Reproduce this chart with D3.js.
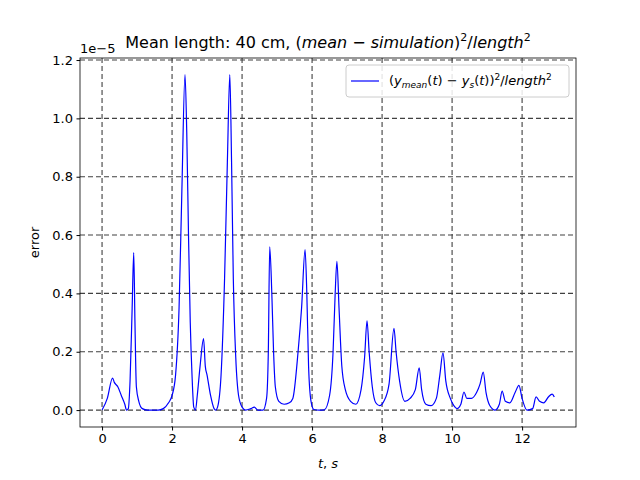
<!DOCTYPE html>
<html><head><meta charset="utf-8">
<script src="https://cdn.jsdelivr.net/npm/d3@7"></script>
<style>body{margin:0;background:#fff}text{font-family:"DejaVu Sans",sans-serif}</style>
</head><body><svg id="chart" width="640" height="480"></svg>
<script>
// curve, error in units of 1e-5
var times = [0,0.15,0.3,0.35,0.45,0.55,0.65,0.7,0.75,0.8,0.86,0.905,0.94,0.98,1.05,1.15,1.3,1.6,1.75,1.9,2.0,2.1,2.2,2.28,2.37,2.42,2.47,2.52,2.57,2.62,2.67,2.72,2.8,2.9,2.95,3.0,3.1,3.2,3.25,3.3,3.4,3.5,3.58,3.65,3.7,3.75,3.82,3.9,4.0,4.1,4.25,4.35,4.45,4.6,4.7,4.75,4.79,4.85,4.9,4.95,5.05,5.2,5.35,5.45,5.6,5.7,5.8,5.85,5.9,5.97,6.05,6.2,6.35,6.5,6.6,6.66,6.71,6.77,6.85,6.95,7.1,7.25,7.4,7.5,7.57,7.63,7.72,7.82,7.93,8.05,8.2,8.34,8.4,8.5,8.65,8.8,8.95,9.06,9.13,9.25,9.4,9.55,9.65,9.74,9.82,9.95,10.05,10.14,10.25,10.34,10.42,10.55,10.7,10.8,10.89,10.97,11.08,11.23,11.35,11.43,11.52,11.65,11.8,11.91,12.0,12.14,12.3,12.4,12.5,12.62,12.75,12.86,12.92];
var errors = [0,0.04,0.11,0.095,0.08,0.05,0.02,0,0.005,0.1,0.35,0.54,0.3,0.08,0.03,0.005,0,0,0.005,0.025,0.05,0.12,0.35,0.75,1.15,0.95,0.6,0.3,0.12,0.01,0,0.05,0.15,0.245,0.15,0.12,0.05,0.005,0,0.01,0.12,0.45,0.85,1.15,0.85,0.45,0.18,0.05,0.01,0,0.005,0.01,0,0,0.04,0.2,0.56,0.4,0.2,0.08,0.03,0.02,0.025,0.04,0.2,0.35,0.55,0.4,0.15,0.03,0.002,0,0.001,0.05,0.2,0.4,0.51,0.35,0.15,0.07,0.03,0.02,0.07,0.18,0.306,0.2,0.08,0.025,0.015,0.03,0.09,0.28,0.2,0.1,0.03,0.04,0.07,0.145,0.07,0.02,0.015,0.04,0.12,0.196,0.1,0.04,0.015,0.005,0.02,0.062,0.04,0.04,0.06,0.09,0.13,0.06,0.015,0,0.02,0.065,0.03,0.025,0.06,0.085,0.04,0,0.005,0.045,0.03,0.025,0.045,0.055,0.045];
var xTicks = [0,2,4,6,8,10,12];
var yTicks = [0,0.2,0.4,0.6,0.8,1.0,1.2];

var svg = d3.select("#chart");
var L = 80, R = 576, T = 58, B = 427;
var x = d3.scaleLinear().domain([-0.63, 13.54]).range([L, R]);
var y = d3.scaleLinear().domain([-0.058, 1.207]).range([B, T]);

// grid
svg.append("g").selectAll("line").data(xTicks).join("line")
  .attr("x1", d => x(d)).attr("x2", d => x(d)).attr("y1", T).attr("y2", B)
  .attr("stroke", "#404040").attr("stroke-dasharray", "5,3").attr("stroke-width", 1.1);
svg.append("g").selectAll("line").data(yTicks).join("line")
  .attr("y1", d => y(d)).attr("y2", d => y(d)).attr("x1", L).attr("x2", R)
  .attr("stroke", "#404040").attr("stroke-dasharray", "5,3").attr("stroke-width", 1.1);

var line = d3.line().x((d, i) => x(times[i])).y(d => y(d)).curve(d3.curveMonotoneX);
svg.append("path").datum(errors).attr("d", line)
  .attr("fill", "none").attr("stroke", "blue").attr("stroke-width", 1.2);

var xa = svg.append("g").attr("transform", "translate(0," + B + ")")
  .call(d3.axisBottom(x).tickValues(xTicks).tickSize(3.5).tickPadding(3.5).tickFormat(d3.format("d")));
var ya = svg.append("g").attr("transform", "translate(" + L + ",0)")
  .call(d3.axisLeft(y).tickValues(yTicks).tickSize(3.5).tickPadding(3.5).tickFormat(d3.format(".1f")));
[xa, ya].forEach(a => { a.selectAll("text").attr("font-size", 13).attr("fill", "#000"); a.select(".domain").remove(); });
svg.append("rect").attr("x", L).attr("y", T).attr("width", R - L).attr("height", B - T)
  .attr("fill", "none").attr("stroke", "#000").attr("stroke-width", 0.8);

svg.append("text").attr("x", L).attr("y", T - 5).attr("font-size", 13).text("1e\u22125");

var title = svg.append("text").attr("x", 328).attr("y", 48).attr("text-anchor", "middle").attr("font-size", 16);
title.append("tspan").text("Mean length: 40 cm, (");
title.append("tspan").attr("font-style", "italic").text("mean \u2212 simulation");
title.append("tspan").text(")");
title.append("tspan").attr("font-size", 11).attr("dy", -7).text("2");
title.append("tspan").attr("dy", 7).text("/");
title.append("tspan").attr("font-style", "italic").text("length");
title.append("tspan").attr("font-size", 11).attr("dy", -7).text("2");

var xl = svg.append("text").attr("x", (L + R) / 2).attr("y", 468).attr("text-anchor", "middle").attr("font-size", 13);
xl.append("tspan").attr("font-style", "italic").text("t");
xl.append("tspan").text(", ");
xl.append("tspan").attr("font-style", "italic").text("s");
svg.append("text").attr("transform", "translate(39," + (T + B) / 2 + ") rotate(-90)")
  .attr("text-anchor", "middle").attr("font-size", 13).text("error");

// legend
var lg = svg.append("g");
lg.append("rect").attr("x", 346).attr("y", 65).attr("width", 223).attr("height", 32).attr("rx", 3)
  .attr("fill", "#fff").attr("fill-opacity", 0.85).attr("stroke", "#ccc");
lg.append("line").attr("x1", 351).attr("x2", 379).attr("y1", 81).attr("y2", 81).attr("stroke", "blue").attr("stroke-width", 1.2);
var lt = lg.append("text").attr("x", 389).attr("y", 85).attr("font-size", 13);
lt.append("tspan").text("(");
lt.append("tspan").attr("font-style", "italic").text("y");
lt.append("tspan").attr("font-style", "italic").attr("font-size", 9).attr("dy", 3).text("mean");
lt.append("tspan").attr("dy", -3).text("(");
lt.append("tspan").attr("font-style", "italic").text("t");
lt.append("tspan").text(") \u2212 ");
lt.append("tspan").attr("font-style", "italic").text("y");
lt.append("tspan").attr("font-style", "italic").attr("font-size", 9).attr("dy", 3).text("s");
lt.append("tspan").attr("dy", -3).text("(");
lt.append("tspan").attr("font-style", "italic").text("t");
lt.append("tspan").text("))");
lt.append("tspan").attr("font-size", 9).attr("dy", -5).text("2");
lt.append("tspan").attr("dy", 5).text("/");
lt.append("tspan").attr("font-style", "italic").text("length");
lt.append("tspan").attr("font-size", 9).attr("dy", -5).text("2");
</script></body></html>
